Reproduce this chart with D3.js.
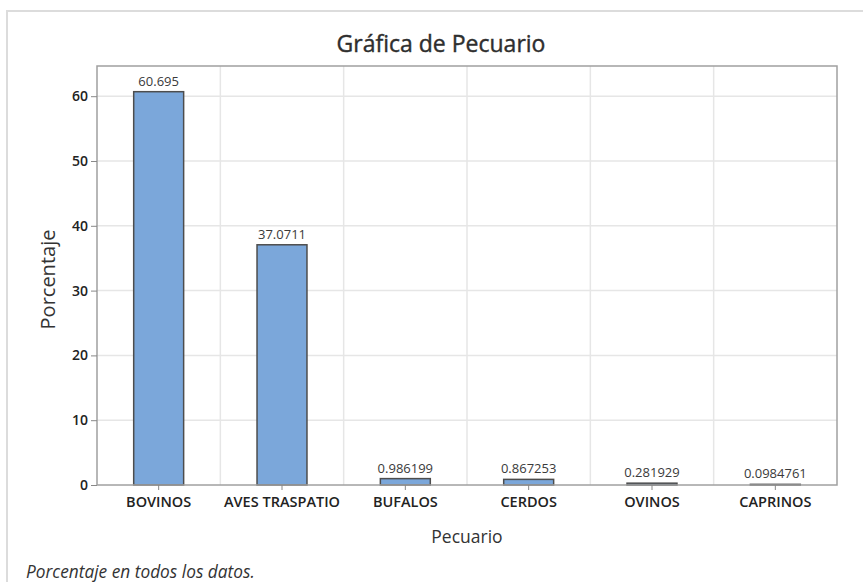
<!DOCTYPE html>
<html>
<head>
<meta charset="utf-8">
<script src="https://cdn.jsdelivr.net/npm/d3@7"></script>
<style>
  body { margin: 0; background: #fff; }
  svg { display: block; font-family: "Open Sans", "Noto Sans", sans-serif; }
</style>
</head>
<body>
<div id="chart"></div>
<script>
"use strict"

// datos
const categories = ["BOVINOS", "AVES TRASPATIO", "BUFALOS", "CERDOS", "OVINOS", "CAPRINOS"];
const values = [60.695, 37.0711, 0.986199, 0.867253, 0.281929, 0.0984761];
const valueLabels = ["60.695", "37.0711", "0.986199", "0.867253", "0.281929", "0.0984761"];
const yTicks = [0, 10, 20, 30, 40, 50, 60];

const width = 863, height = 582;
const plot = { left: 97, right: 837, top: 66, bottom: 485 };

const svg = d3.select("#chart").append("svg")
    .attr("width", width)
    .attr("height", height);

// marco exterior
svg.append("path")
    .attr("d", `M7,${height} V11 H${width}`)
    .style("fill", "none")
    .style("stroke", "#dcdcdc")
    .style("stroke-width", "2px");

let x = d3.scaleBand()
    .domain(categories)
    .range([plot.left, plot.right])
    .paddingInner(0)
    .paddingOuter(0);

let y = d3.scaleLinear()
    .domain([0, 64.66])
    .range([plot.bottom, plot.top]);

// rejilla horizontal
svg.selectAll(".hgrid")
    .data(yTicks.filter(d => d > 0))
    .enter().append("line")
    .attr("class", "hgrid")
    .attr("x1", plot.left).attr("x2", plot.right)
    .attr("y1", d => y(d)).attr("y2", d => y(d))
    .style("stroke", "#e6e6e6")
    .style("stroke-width", "1.5px");

// rejilla vertical (entre categorias)
svg.selectAll(".vgrid")
    .data(categories.slice(1))
    .enter().append("line")
    .attr("class", "vgrid")
    .attr("x1", d => x(d)).attr("x2", d => x(d))
    .attr("y1", plot.top).attr("y2", plot.bottom)
    .style("stroke", "#e6e6e6")
    .style("stroke-width", "1.5px");

// barras
const barW = x.bandwidth() * 0.405;
svg.selectAll(".bar")
    .data(values)
    .enter().append("rect")
    .attr("class", "bar")
    .attr("x", (d, i) => x(categories[i]) + x.bandwidth() / 2 - barW / 2)
    .attr("y", d => y(d))
    .attr("width", barW)
    .attr("height", d => y(0) - y(d))
    .style("fill", "#7ba7da")
    .style("stroke", "#4d4d4d")
    .style("stroke-width", "1.5px");

// etiquetas de valor
svg.selectAll(".vlabel")
    .data(values)
    .enter().append("text")
    .attr("class", "vlabel")
    .attr("x", (d, i) => x(categories[i]) + x.bandwidth() / 2)
    .attr("y", d => y(d) - 6)
    .style("text-anchor", "middle")
    .style("font-size", "13px")
    .style("fill", "#3a3a3a")
    .text((d, i) => valueLabels[i]);

// marco del area de trazado
svg.append("rect")
    .attr("x", plot.left).attr("y", plot.top)
    .attr("width", plot.right - plot.left)
    .attr("height", plot.bottom - plot.top)
    .style("fill", "none")
    .style("stroke", "#a0a0a0")
    .style("stroke-width", "1.5px");

// eje y
let yAxis = d3.axisLeft(y).tickValues(yTicks).tickSize(6).tickPadding(3);
let gy = svg.append("g")
    .attr("transform", `translate(${plot.left},0)`)
    .call(yAxis);
gy.select(".domain").remove();
gy.selectAll("line").style("stroke", "#888");
gy.selectAll("text")
    .style("font-size", "14px")
    .style("font-weight", "600")
    .style("fill", "#222")
    .style("font-family", "\"Open Sans\", sans-serif");

// eje x
let xAxis = d3.axisBottom(x).tickSize(5).tickPadding(7);
let gx = svg.append("g")
    .attr("transform", `translate(0,${plot.bottom})`)
    .call(xAxis);
gx.select(".domain").remove();
gx.selectAll("line").style("stroke", "#888");
gx.selectAll("text")
    .style("font-size", "14.5px")
    .style("font-weight", "600")
    .style("fill", "#222")
    .style("font-family", "\"Open Sans\", sans-serif");

// titulos
svg.append("text")
    .attr("x", 441).attr("y", 52)
    .style("text-anchor", "middle")
    .style("font-size", "23px")
    .style("fill", "#2e2e2e")
    .style("stroke", "#2e2e2e")
    .style("stroke-width", "0.4px")
    .text("Gráfica de Pecuario");

svg.append("text")
    .attr("transform", `translate(55,${(plot.top + plot.bottom) / 2 + 4}) rotate(-90)`)
    .style("text-anchor", "middle")
    .style("font-size", "20px")
    .style("fill", "#333")
    .text("Porcentaje");

svg.append("text")
    .attr("x", (plot.left + plot.right) / 2).attr("y", 543)
    .style("text-anchor", "middle")
    .style("font-size", "17.5px")
    .style("fill", "#333")
    .text("Pecuario");

svg.append("text")
    .attr("x", 26).attr("y", 578)
    .style("font-size", "17.3px")
    .style("font-style", "italic")
    .style("fill", "#333")
    .text("Porcentaje en todos los datos.");
</script>
</body>
</html>
